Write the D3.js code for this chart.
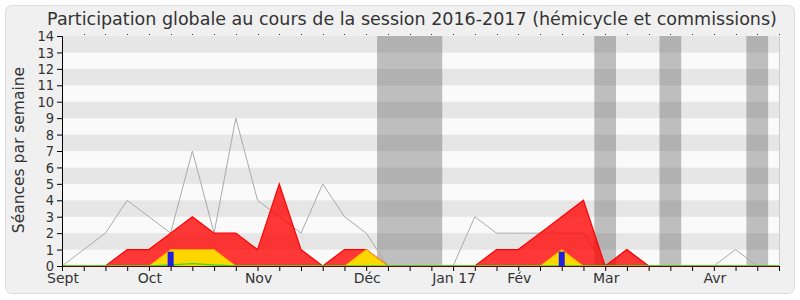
<!DOCTYPE html>
<html>
<head>
<meta charset="utf-8">
<script src="https://cdn.jsdelivr.net/npm/d3@7"></script>
<style>
  body { margin: 0; background: #ffffff; }
  text { font-family: "DejaVu Sans", Verdana, sans-serif; }
</style>
</head>
<body>
<div id="chart"></div>
<script>
// Weekly values, session 2016-2017 (one entry per week, Sept -> end of session)
var medianLine  = [0,1,2,4,3,2,7,2,9,4,3,2,5,3,2,0,0,0,0,3,2,2,2,2,2,0,1,0,0,0,0,1,0,0];
var presence    = [0,0,0,1,1,2,3,2,2,1,5,1,0,1,1,0,0,0,0,0,1,1,2,3,4,0,1,0,0,0,0,0,0,0];
var participation = [0,0,0,0,0,1,1,1,0,0,0,0,0,0,1,0,0,0,0,0,0,0,0,1,0,0,0,0,0,0,0,0,0,0];
var interventions = [0,0,0,0,0,0.06,0.15,0.06,0,0,0,0,0,0,0,0,0,0,0,0,0,0,0,0,0,0,0,0,0,0,0,0,0,0];
var questions   = [0,0,0,0,0,0.87,0,0,0,0,0,0,0,0,0,0,0,0,0,0,0,0,0,0.87,0,0,0,0,0,0,0,0,0,0];

// holidays: [start week, end week]
var vacances = [[14.5, 17.5], [24.5, 25.5], [27.5, 28.5], [31.5, 32.5]];

var monthWeeks  = [0, 4, 9, 14, 18, 21, 25, 30];
var monthLabels = ["Sept", "Oct", "Nov", "Déc", "Jan 17", "Fév", "Mar", "Avr"];

var yTicks = d3.range(0, 15);

var W = 800, H = 300;
var margin = { top: 36, right: 20, bottom: 34, left: 62 };

var svg = d3.select("#chart").append("svg")
  .attr("width", W)
  .attr("height", H);

// panel background
svg.append("rect")
  .attr("x", 5.5).attr("y", 5.5)
  .attr("width", 789).attr("height", 288)
  .attr("rx", 6)
  .style("fill", "#f0f0f0")
  .style("stroke", "#dedede");

var x = d3.scaleLinear()
  .domain([0, medianLine.length - 1])
  .range([margin.left, W - 21]);

var y = d3.scaleLinear()
  .domain([0, 14])
  .range([H - margin.bottom, margin.top]);

var weeks = d3.range(medianLine.length);

// stripes
svg.selectAll(".stripe")
  .data(yTicks.slice(0, 14))
  .enter()
  .append("rect")
  .attr("class", "stripe")
  .attr("x", x(0))
  .attr("width", x.range()[1] - x(0))
  .attr("y", function(d){ return y(d + 1); })
  .attr("height", function(d){ return y(d) - y(d + 1); })
  .style("fill", function(d){ return d % 2 == 1 ? "#e6e6e6" : "#fafafa"; });

// holidays
svg.selectAll(".vacance")
  .data(vacances)
  .enter()
  .append("rect")
  .attr("class", "vacance")
  .attr("x", function(d){ return x(d[0]); })
  .attr("width", function(d){ return x(d[1]) - x(d[0]); })
  .attr("y", y(14))
  .attr("height", y(0) - y(14))
  .style("fill", "rgb(70,70,70)")
  .style("fill-opacity", 0.33);

// right border of plot
svg.append("line")
  .attr("x1", x.range()[1] + 0.5).attr("x2", x.range()[1] + 0.5)
  .attr("y1", y(14)).attr("y2", y(0))
  .style("stroke", "#cccccc");

// median (gray line)
var line = d3.line()
  .x(function(d, i){ return x(i); })
  .y(function(d){ return y(d); });

svg.append("path")
  .datum(medianLine)
  .attr("d", line)
  .style("fill", "none")
  .style("stroke", "#aaaaaa")
  .style("stroke-width", 1);

var area = d3.area()
  .x(function(d, i){ return x(i); })
  .y0(y(0))
  .y1(function(d){ return y(d); });

// presence (red)
svg.append("path")
  .datum(presence)
  .attr("d", area)
  .style("fill", "rgba(255,0,0,0.78)")
  .style("stroke", "none");
svg.append("path")
  .datum(presence)
  .attr("d", line)
  .style("fill", "none")
  .style("stroke", "#ff0000")
  .style("stroke-width", 1.2);

// participation (yellow)
svg.append("path")
  .datum(participation)
  .attr("d", area)
  .style("fill", "#ffd700")
  .style("stroke", "none");
svg.append("path")
  .datum(participation)
  .attr("d", line)
  .style("fill", "none")
  .style("stroke", "#ffa500")
  .style("stroke-width", 1);

// interventions (green)
svg.append("path")
  .datum(interventions)
  .attr("d", line)
  .style("fill", "none")
  .style("stroke", "#33dd33")
  .style("stroke-width", 1.3);

// questions (blue bars)
svg.selectAll(".question")
  .data(weeks.filter(function(i){ return questions[i] > 0; }))
  .enter()
  .append("rect")
  .attr("class", "question")
  .attr("x", function(i){ return x(i) - 3; })
  .attr("width", 6)
  .attr("y", function(i){ return y(questions[i]); })
  .attr("height", function(i){ return y(0) - y(questions[i]); })
  .style("fill", "#2020e0");

// Axes
var yAxis = d3.axisLeft(y)
  .tickValues(yTicks)
  .tickSize(5)
  .tickPadding(3)
  .tickFormat(d3.format("d"));

var yAxisGroup = svg.append("g")
  .attr("class", "y-axis axis")
  .attr("transform", "translate(" + x(0) + ",0)")
  .call(yAxis);

var xAxis = d3.axisBottom(x)
  .tickValues(weeks)
  .tickSize(5)
  .tickFormat("");

var xAxisGroup = svg.append("g")
  .attr("class", "x-axis axis")
  .attr("transform", "translate(0," + y(0) + ")")
  .call(xAxis);

// top mini ticks
svg.selectAll(".topTick")
  .data(weeks.slice(1))
  .enter()
  .append("rect")
  .attr("class", "topTick")
  .attr("x", function(i){ return Math.round(x(i)); })
  .attr("y", y(14) - 2)
  .attr("width", 1)
  .attr("height", 1)
  .style("fill", "#333");

svg.selectAll(".axis path.domain")
  .style("stroke", "#000");
svg.selectAll(".axis line")
  .style("stroke", "#000");
yAxisGroup.selectAll("text")
  .style("font-size", "14.5px")
  .style("fill", "#333")
  .style("font-family", "'DejaVu Sans Condensed', 'DejaVu Sans'");
xAxisGroup.select("path.domain").attr("d", "M" + x(0) + ",0.5H" + (x.range()[1] + 1));

// baseline line on the axis
svg.append("line")
  .attr("x1", x(0)).attr("x2", x.range()[1])
  .attr("y1", y(0) + 0.5).attr("y2", y(0) + 0.5)
  .style("stroke", "#5a0a00")
  .style("stroke-width", 1);

// month labels
svg.selectAll(".month")
  .data(monthWeeks)
  .enter()
  .append("text")
  .attr("class", "month")
  .attr("x", function(d){ return x(d) + 1; })
  .attr("y", 283)
  .style("text-anchor", "middle")
  .style("font-size", "14px")
  .style("fill", "#333")
  .text(function(d, i){ return monthLabels[i]; });

// y label
svg.append("text")
  .attr("transform", "translate(24," + 150 + ") rotate(-90)")
  .style("text-anchor", "middle")
  .style("font-size", "15.5px")
  .style("fill", "#333")
  .text("Séances par semaine");

// title
svg.append("text")
  .attr("x", 412)
  .attr("y", 25)
  .style("text-anchor", "middle")
  .style("font-size", "17.5px")
  .style("fill", "#333")
  .text("Participation globale au cours de la session 2016-2017 (hémicycle et commissions)");
</script>
</body>
</html>
